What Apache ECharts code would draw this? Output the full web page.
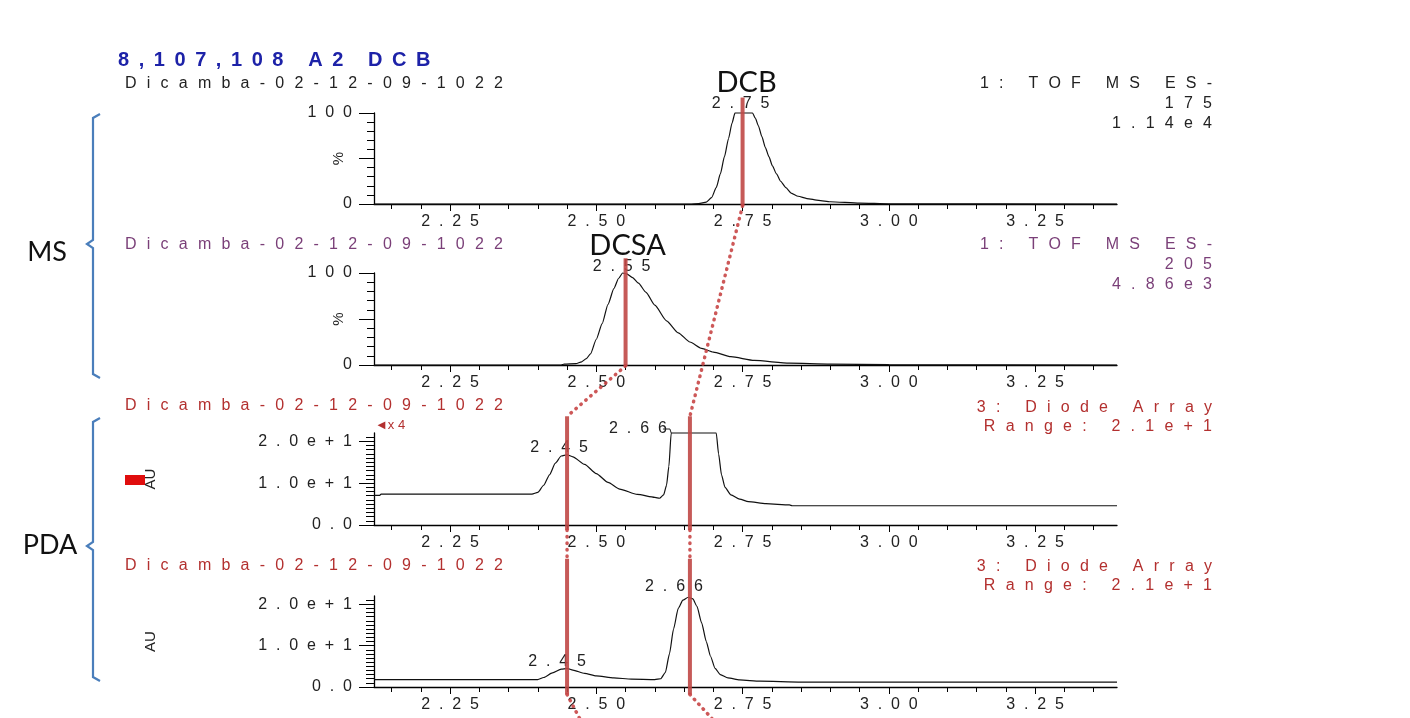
<!DOCTYPE html>
<html><head><meta charset="utf-8">
<script src="https://cdn.jsdelivr.net/npm/echarts@6/dist/echarts.min.js"></script>
<style>html,body{margin:0;padding:0;background:#fff}#c{width:1410px;height:718px}</style>
</head><body><div id="c"></div>
<script>
// ---------------- data ----------------
const xMin = 2.12, xMax = 3.39;
const xTickValues = [2.25, 2.50, 2.75, 3.00, 3.25];
const msTickValues = [0, 50, 100];
const msLabelValues = [0, 100];
const pdaTickValues = [0, 10, 20];

// Panel 1: MS ES- 175 (DCB), %
const p1Time  = [2.12, 2.66, 2.675, 2.688, 2.697, 2.705, 2.712, 2.719, 2.726, 2.732, 2.737, 2.767, 2.772, 2.777, 2.783, 2.789, 2.795, 2.801, 2.808, 2.815, 2.824, 2.833, 2.845, 2.86, 2.88, 2.90, 2.95, 3.00, 3.39];
const p1Value = [0, 0, 0.5, 2, 7, 18, 33, 52, 72, 89, 100, 100, 94, 86, 74, 62, 52, 42, 33, 25, 18, 12, 8.5, 6, 4, 2.5, 1, 0.3, 0];

// Panel 2: MS ES- 205 (DCSA), %
const p2Time  = [2.12, 2.44, 2.445, 2.465, 2.475, 2.483, 2.49, 2.50, 2.51, 2.52, 2.53, 2.538, 2.545, 2.552, 2.562, 2.572, 2.585, 2.60, 2.62, 2.64, 2.66, 2.68, 2.70, 2.73, 2.77, 2.83, 2.90, 3.0, 3.39];
const p2Value = [0, 0, 1, 1.5, 3.5, 7, 12, 28, 45, 66, 83, 94, 100, 99, 95, 89, 79, 65, 48, 35, 25, 18, 14, 9, 5, 2, 1, 0.3, 0];

// Panel 3: Diode Array (x4), AU
const p3Time  = [2.12, 2.13, 2.132, 2.39, 2.40, 2.41, 2.42, 2.43, 2.44, 2.45, 2.46, 2.48, 2.50, 2.52, 2.54, 2.57, 2.60, 2.608, 2.615, 2.62, 2.624, 2.628, 2.705, 2.709, 2.714, 2.72, 2.73, 2.745, 2.76, 2.79, 2.83, 2.835, 3.39];
const p3Value = [7.1, 7.1, 7.4, 7.4, 7.8, 9.5, 12, 14.8, 16.5, 16.8, 16.3, 14.5, 12.3, 10.2, 8.6, 7.3, 6.6, 6.4, 7.2, 9.5, 14, 22, 22, 17, 12, 9, 7.2, 6.2, 5.6, 5.1, 4.8, 4.6, 4.6];

// Panel 4: Diode Array, AU
const p4Time  = [2.12, 2.40, 2.41, 2.425, 2.44, 2.45, 2.46, 2.48, 2.50, 2.53, 2.56, 2.60, 2.61, 2.618, 2.625, 2.632, 2.64, 2.648, 2.657, 2.665, 2.672, 2.68, 2.688, 2.695, 2.703, 2.712, 2.725, 2.745, 2.78, 2.85, 3.39];
const p4Value = [1.8, 1.8, 2.3, 3.4, 4.3, 4.5, 4.1, 3.3, 2.7, 2.2, 1.9, 1.8, 2.0, 3.5, 8, 14, 19, 21, 21.7, 21.3, 19.5, 15.5, 11, 7.5, 4.5, 3, 2.2, 1.7, 1.4, 1.2, 1.2];

// Peak annotations: [panel, retention time, value, label]
const peakLabels = [
  [0, 2.75, 100, '2.75'],
  [1, 2.55, 100, '2.55'],
  [2, 2.45, 16.8, '2.45'],
  [2, 2.66, 22, '2.66'],
  [3, 2.66, 21.7, '2.66'],
  [3, 2.45, 4.5, '2.45']
];
const compoundNames = [[0, 2.75, 'DCB'], [1, 2.55, 'DCSA']];

// Red marker chains: [panel, time, value] points; segments alternate solid / dotted
const dcbChain = [[0, 2.75, 117], [0, 2.75, -2], [2, 2.66, 26], [2, 2.66, -1.2], [3, 2.66, 31], [3, 2.66, -1.8], [3, 2.70, -8]];
const dcsaChain = [[1, 2.55, 116], [1, 2.55, -1], [2, 2.45, 26], [2, 2.45, -1.2], [3, 2.45, 31], [3, 2.45, -1.8], [3, 2.473, -8]];
const chainStyles = ['solid', 'dotted', 'solid', 'dotted', 'solid', 'dotted'];

const runName = 'Dicamba-02-12-09-1022';
const titleText = '8,107,108 A2 DCB';
const rightTexts = [
  ['1: TOF MS ES-', '175', '1.14e4'],
  ['1: TOF MS ES-', '205', '4.86e3'],
  ['3: Diode Array', 'Range: 2.1e+1'],
  ['3: Diode Array', 'Range: 2.1e+1']
];

// ---------------- layout / style ----------------
const FONT = '"Liberation Sans", Arial, sans-serif';
const BIG = 'Lato, "Open Sans", sans-serif';
const sp = (s, g) => s.split('').join(g || '  ');
const panelColors = ['#222222', '#7a3f78', '#b3302f', '#b3302f'];
const grids = [
  {left: 374, top: 113, width: 743, height: 91},
  {left: 374, top: 273, width: 743, height: 92},
  {left: 374, top: 433, width: 743, height: 92},
  {left: 374, top: 596, width: 743, height: 91}
];

function xAxisFor(i) {
  return {
    gridIndex: i, type: 'value', min: xMin, max: xMax, minInterval: 0.25, maxInterval: 0.25,
    axisLine: {onZero: false, lineStyle: {color: '#000', width: 1.3}},
    axisTick: {show: true, customValues: xTickValues, length: 7, lineStyle: {color: '#000', width: 1}},
    minorTick: {show: true, splitNumber: 5, length: 5, lineStyle: {color: '#000', width: 1}},
    axisLabel: {customValues: xTickValues, formatter: v => sp(v.toFixed(2)), margin: 10,
      fontSize: 16, color: '#222', fontFamily: FONT},
    splitLine: {show: false}
  };
}
function yAxisFor(i) {
  const ms = i < 2;
  return {
    gridIndex: i, type: 'value', min: 0, max: ms ? 100 : 22,
    minInterval: ms ? 50 : 10, maxInterval: ms ? 50 : 10,
    axisLine: {onZero: false, lineStyle: {color: '#000', width: 1.3}},
    axisTick: {show: true, customValues: ms ? msTickValues : pdaTickValues, length: 15, lineStyle: {color: '#000'}},
    minorTick: {show: true, splitNumber: ms ? 5 : 10, length: ms ? 7 : 8, lineStyle: {color: '#000'}},
    axisLabel: {customValues: ms ? msLabelValues : pdaTickValues, margin: 22, fontSize: 16, color: '#222', fontFamily: FONT,
      formatter: v => ms ? sp(String(v)) : (v === 0 ? sp('0.0') : sp((v / 10).toFixed(1) + 'e+1'))},
    splitLine: {show: false},
    name: ms ? '%' : 'AU', nameLocation: 'middle', nameRotate: 90, nameGap: ms ? 28 : 216,
    nameMoveOverlap: false,
    nameTextStyle: {fontSize: 15, color: '#222', fontFamily: FONT}
  };
}
const times = [p1Time, p2Time, p3Time, p4Time];
const values = [p1Value, p2Value, p3Value, p4Value];

const chart = echarts.init(document.getElementById('c'), null, {renderer: 'canvas'});
chart.setOption({
  animation: false,
  backgroundColor: '#fff',
  grid: grids,
  xAxis: [0, 1, 2, 3].map(xAxisFor),
  yAxis: [0, 1, 2, 3].map(yAxisFor),
  series: [0, 1, 2, 3].map(i => ({
    type: 'line', xAxisIndex: i, yAxisIndex: i, showSymbol: false, clip: false,
    smooth: 0.2, smoothMonotone: 'x',
    lineStyle: {color: '#111', width: 1.2},
    data: times[i].map((t, k) => [t, values[i][k]])
  }))
});

// ---------------- overlays via library scales ----------------
const px = (p, t, v) => chart.convertToPixel({gridIndex: p}, [t, v]);
const g = [];
const RED = 'rgba(192,72,70,0.9)';

function chain(pts) {
  for (let k = 0; k < pts.length - 1; k++) {
    const a = px(pts[k][0], pts[k][1], pts[k][2]);
    const b = px(pts[k + 1][0], pts[k + 1][1], pts[k + 1][2]);
    const dotted = chainStyles[k] === 'dotted';
    g.push({type: 'line', z: 50, shape: {x1: a[0], y1: a[1], x2: b[0], y2: b[1]},
      style: dotted ? {stroke: 'rgba(200,70,70,0.9)', lineWidth: 3.5, lineDash: [0.5, 6], lineCap: 'round'}
                    : {stroke: RED, lineWidth: 4}});
  }
}
chain(dcbChain);
chain(dcsaChain);

const labelOffsets = [[-2, -1], [-4, 2], [-8, 1], [-52, 4], [-16, -3], [-10, 1]];
peakLabels.forEach((pl, k) => {
  const p = px(pl[0], pl[1], pl[2]);
  g.push({type: 'text', z: 40, x: p[0] + labelOffsets[k][0], y: p[1] + labelOffsets[k][1],
    style: {text: sp(pl[3]), font: '16px ' + FONT, fill: '#222', align: 'center', verticalAlign: 'bottom'}});
});
// leader from the 2.66 label to the saturated plateau
{
  const a = px(2, 2.66, 22), s = px(2, 2.628, 22);
  g.push({type: 'polyline', z: 40, shape: {points: [[a[0] - 27, a[1] - 4], [a[0] - 20, a[1] - 4], [s[0], s[1]]]},
    style: {stroke: '#222', lineWidth: 1, fill: null}});
}
const nameOffsets = [[4, -16], [2, -13]];
compoundNames.forEach((cn, k) => {
  const p = px(cn[0], cn[1], 100);
  g.push({type: 'text', z: 40, x: p[0] + nameOffsets[k][0], y: p[1] + nameOffsets[k][1],
    style: {text: cn[2], font: '29px ' + BIG, fill: '#111', align: 'center', verticalAlign: 'bottom'}});
});

// headers
g.push({type: 'text', x: 118, y: 60, style: {text: sp(titleText, ' \u2009'), font: 'bold 20px ' + FONT, fill: '#1d22a8', verticalAlign: 'middle'}});
const runY = [84, 245, 406, 566];
runY.forEach((y, i) => {
  g.push({type: 'text', x: 125, y: y, style: {text: sp(runName, '  \u200A'), font: '16px ' + FONT, fill: panelColors[i], verticalAlign: 'middle'}});
});
const rightY = [[84, 104, 124], [245, 265, 285], [408, 427], [567, 586]];
rightTexts.forEach((lines, i) => {
  lines.forEach((s, j) => {
    g.push({type: 'text', x: 1212, y: rightY[i][j], style: {text: sp(s, '  \u200A'), font: '16px ' + FONT, fill: panelColors[i], align: 'right', verticalAlign: 'middle'}});
  });
});
g.push({type: 'text', x: 375, y: 425, style: {text: '\u25C4x 4', font: '13px ' + FONT, fill: '#b3302f', verticalAlign: 'middle'}});
g.push({type: 'rect', shape: {x: 125, y: 475, width: 20, height: 10}, style: {fill: '#e00d0d'}});

// brackets
const BLUE = '#4a7ebb';
function bracket(y0, y1, ym) {
  g.push({type: 'polyline', shape: {points: [[100, y0], [93, y0 + 4], [93, ym - 4], [87, ym], [93, ym + 4], [93, y1 - 4], [100, y1]]},
    style: {stroke: BLUE, lineWidth: 2.2, fill: null}});
}
bracket(114, 378, 244);
bracket(418, 681, 546);
g.push({type: 'text', x: 47, y: 252, style: {text: 'MS', font: '27px ' + BIG, fill: '#111', align: 'center', verticalAlign: 'middle'}});
g.push({type: 'text', x: 50, y: 545, style: {text: 'PDA', font: '27px ' + BIG, fill: '#111', align: 'center', verticalAlign: 'middle'}});

chart.setOption({graphic: g});
</script>
</body></html>
